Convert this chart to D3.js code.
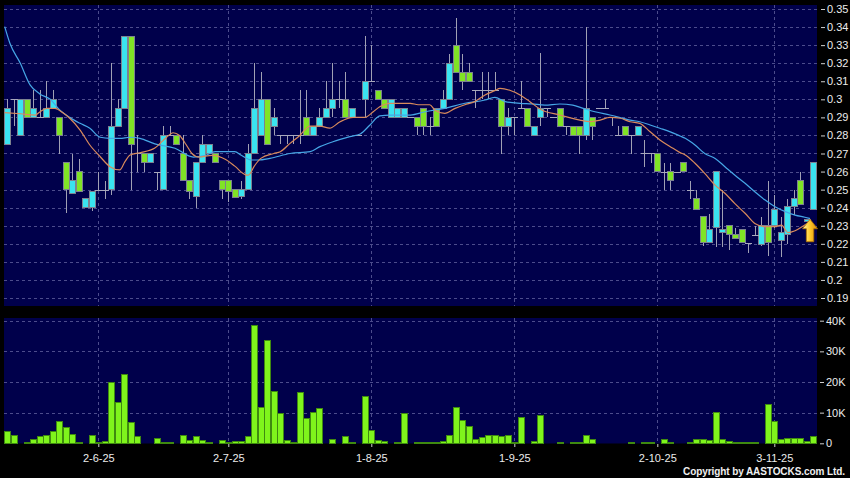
<!DOCTYPE html>
<html>
<head>
<meta charset="utf-8">
<script src="https://cdn.jsdelivr.net/npm/d3@7"></script>
<style>
  body { margin: 0; background: #000; }
  svg { display: block; }
</style>
</head>
<body>
<div id="chart"></div>
<script>
// daily candles, index 0 = first trading day shown
var opens = [0.275,0.30,0.28,0.30,0.29,0.29,0.29,0.295,0.29,0.265,
  0.248,0.26,0.24,0.24,0.25,0.25,0.25,0.285,0.295,0.335,
  0.27,0.27,0.265,0.26,0.25,0.28,0.28,0.27,0.255,0.246,
  0.265,0.27,0.27,0.255,0.255,0.25,0.246,0.25,0.27,0.28,
  0.30,0.285,0.28,0.28,0.28,0.28,0.29,0.28,0.285,0.29,
  0.295,0.30,0.30,0.29,0.28,0.30,0.31,0.305,0.30,0.29,
  0.29,0.29,0.29,0.29,0.295,0.285,0.295,0.295,0.30,0.33,
  0.315,0.315,0.305,0.305,0.305,0.305,0.30,0.285,0.29,0.295,
  0.295,0.28,0.29,0.295,0.29,0.295,0.285,0.285,0.285,0.28,
  0.29,0.295,0.295,0.29,0.28,0.285,0.28,0.28,0.27,0.27,
  0.27,0.26,0.26,0.26,0.265,0.25,0.245,0.235,0.2205,0.229,
  0.226,0.23,0.225,0.228,0.2205,0.225,0.2195,0.23,0.23,0.222,
  0.2253,0.2405,0.255,0.2325,0.239];
var highs = [0.30,0.30,0.30,0.30,0.305,0.305,0.31,0.305,0.29,0.265,
  0.27,0.267,0.245,0.249,0.26,0.255,0.32,0.30,0.335,0.335,
  0.28,0.27,0.27,0.26,0.285,0.285,0.28,0.28,0.255,0.265,
  0.28,0.275,0.27,0.255,0.255,0.25,0.255,0.275,0.32,0.315,
  0.30,0.295,0.28,0.28,0.28,0.305,0.305,0.285,0.295,0.31,
  0.32,0.31,0.315,0.295,0.28,0.335,0.33,0.305,0.30,0.30,
  0.295,0.295,0.29,0.29,0.295,0.29,0.295,0.305,0.325,0.345,
  0.325,0.32,0.305,0.315,0.315,0.315,0.30,0.295,0.29,0.31,
  0.295,0.285,0.3255,0.295,0.29,0.295,0.285,0.285,0.285,0.34,
  0.29,0.295,0.30,0.29,0.285,0.285,0.28,0.285,0.2775,0.27,
  0.27,0.265,0.265,0.26,0.265,0.255,0.25,0.235,0.2365,0.26,
  0.25,0.23,0.2285,0.228,0.2205,0.23,0.235,0.255,0.247,0.235,
  0.245,0.25,0.26,0.2336,0.265];
var lows = [0.275,0.285,0.28,0.29,0.29,0.29,0.29,0.295,0.27,0.237,
  0.248,0.249,0.24,0.238,0.25,0.245,0.247,0.285,0.295,0.25,
  0.26,0.26,0.265,0.25,0.25,0.28,0.275,0.255,0.245,0.24,
  0.265,0.27,0.265,0.245,0.243,0.2457,0.245,0.25,0.27,0.28,
  0.275,0.28,0.275,0.275,0.275,0.275,0.28,0.28,0.285,0.29,
  0.29,0.295,0.29,0.29,0.28,0.29,0.31,0.30,0.295,0.29,
  0.29,0.29,0.29,0.28,0.28,0.28,0.285,0.295,0.30,0.315,
  0.305,0.31,0.295,0.30,0.30,0.305,0.27,0.28,0.28,0.295,
  0.285,0.28,0.285,0.29,0.29,0.285,0.28,0.28,0.27,0.2775,
  0.2775,0.295,0.295,0.285,0.28,0.28,0.27,0.28,0.2625,0.265,
  0.26,0.25,0.25,0.26,0.26,0.245,0.239,0.219,0.2205,0.2185,
  0.2185,0.2165,0.223,0.2205,0.215,0.225,0.219,0.213,0.2285,0.2125,
  0.22,0.236,0.242,0.2325,0.239];
var closes = [0.295,0.30,0.30,0.29,0.295,0.29,0.295,0.30,0.28,0.25,
  0.255,0.249,0.245,0.249,0.25,0.25,0.285,0.295,0.335,0.275,
  0.27,0.265,0.27,0.26,0.28,0.28,0.275,0.255,0.249,0.265,
  0.275,0.275,0.265,0.25,0.249,0.2457,0.25,0.27,0.295,0.30,
  0.275,0.29,0.28,0.28,0.28,0.28,0.28,0.285,0.29,0.295,
  0.30,0.30,0.29,0.295,0.28,0.31,0.31,0.30,0.295,0.30,
  0.295,0.295,0.29,0.285,0.285,0.285,0.285,0.30,0.32,0.315,
  0.31,0.31,0.305,0.305,0.305,0.305,0.285,0.29,0.29,0.295,
  0.285,0.285,0.295,0.295,0.29,0.285,0.285,0.28,0.28,0.295,
  0.285,0.295,0.295,0.29,0.28,0.28,0.28,0.285,0.27,0.27,
  0.26,0.26,0.255,0.26,0.26,0.25,0.239,0.2205,0.228,0.26,
  0.228,0.225,0.223,0.2205,0.2205,0.225,0.23,0.2205,0.239,0.226,
  0.2405,0.245,0.242,0.2336,0.265];
// volume in thousands of shares
var volumes = [4.0,2.6,0,0.2,1.3,2.1,2.6,3.8,7.2,5.2,
  2.8,0.3,0,2.4,0.4,0.5,20,13.4,22.3,6.7,
  2.1,0,0,1.5,0.3,0.3,0,2.4,0.9,2.3,
  0.8,0.2,0,1.0,0.2,0.7,0.7,2.3,38.5,11.8,
  33.4,16.8,9.6,0.8,0.4,16.5,8.0,10.1,11.4,0,
  1.2,0,2.1,0.3,0,15.4,4.1,0.8,0.5,0,
  0.3,9.8,0,0.3,0.2,0.3,0.4,0.5,2.6,11.6,
  7.3,5.4,1.1,2.0,2.7,2.6,2.1,2.4,0.2,8.5,
  0,0.7,9.1,0,0,0.3,0,0.4,0.4,2.4,
  1.1,0,0,0,0,0,0.2,0,0.4,0.4,
  0,1.4,0.4,0,0,0.2,1.4,1.3,0.9,10,
  1.3,0.7,0.2,0.1,0.1,0.1,0,12.8,7.1,1.1,
  1.5,1.7,1.5,0.5,2.1];

// moving averages: [candle index, price]
var maShort = [[-0.4,0.2926],[2,0.292],[4.3,0.2913],[5,0.293],[6.1,0.295],[7.3,0.295],[8.6,0.2924],
  [9.6,0.2895],[11.2,0.283],[12.7,0.2747],[14.3,0.2682],[15.8,0.2627],[17.3,0.2609],[18.1,0.2655],
  [18.9,0.2692],[20.4,0.2704],[22.7,0.273],[24.5,0.279],[25.5,0.2815],[26.5,0.28],[27.5,0.275],
  [28.4,0.27],[29.5,0.268],[31.5,0.269],[33.6,0.2667],[35,0.263],[36.6,0.2583],[37.1,0.258],
  [38,0.263],[39,0.2673],[41,0.27],[42,0.271],[43.5,0.2756],[45,0.28],[46.6,0.2852],[48.1,0.2852],
  [49.6,0.284],[51.2,0.2876],[53.2,0.29],[55,0.29],[56.3,0.2931],[57.3,0.2959],[58.9,0.2978],
  [62,0.2978],[63.2,0.297],[65,0.297],[65.8,0.294],[67.3,0.2922],[68.9,0.295],[70.4,0.297],
  [71.9,0.2987],[73.5,0.3024],[75,0.3048],[75.8,0.3061],[77.3,0.305],[78.9,0.3024],[80.4,0.2987],
  [82,0.2945],[85,0.2913],[88.1,0.2885],[89.6,0.2876],[91.2,0.2885],[92.7,0.29],[94.3,0.2895],
  [95.8,0.2876],[97.3,0.2867],[98.9,0.282],[100.4,0.2775],[102,0.2738],[103.5,0.2705],
  [104.3,0.2692],[105.8,0.2646],[107.3,0.259],[108.9,0.2525],[110.4,0.248],[111.9,0.2424],
  [113.5,0.2369],[115,0.2313],[116.6,0.2295],[118.1,0.2295],[119.1,0.2304],[120.1,0.2262],
  [121.2,0.2272],[122.7,0.2304],[123.5,0.2322]];
var maLong = [[-0.4,0.3402],[0.4,0.331],[2,0.32],[3.5,0.308],[5,0.303],[6.6,0.30],[8.1,0.294],
  [9.6,0.29],[11.2,0.2867],[12.7,0.284],[14.3,0.279],[15.8,0.2784],[17.3,0.2784],[18.9,0.279],
  [20.4,0.2784],[22.7,0.2753],[25.8,0.2729],[28.6,0.268],[30.4,0.2688],[32,0.271],[35,0.271],
  [36,0.269],[37.6,0.2664],[38.6,0.2664],[40.4,0.2673],[43.5,0.27],[46.6,0.271],[48.1,0.2738],
  [50.1,0.2765],[52.7,0.2793],[54.3,0.2808],[55.8,0.2858],[57.3,0.2908],[58.9,0.2913],[62,0.2913],
  [64.3,0.2931],[67.3,0.295],[70.4,0.2978],[73.5,0.2996],[75,0.3011],[76.6,0.2987],[78.9,0.2978],
  [80.7,0.2975],[82.7,0.2968],[85,0.2974],[87,0.2968],[88.6,0.295],[90.4,0.2931],[92.7,0.2913],
  [95.8,0.2885],[97.3,0.2876],[98.9,0.2858],[100.4,0.284],[102,0.282],[103.5,0.2797],
  [104.3,0.2784],[105.8,0.2747],[107.3,0.27],[108.9,0.2673],[110.4,0.2627],[111.9,0.2581],
  [113.5,0.2535],[115,0.2488],[116.6,0.2442],[118.1,0.2405],[119.7,0.2378],[121.2,0.2359],
  [122.7,0.2347],[123.5,0.234]];

var priceTicks = [0.19,0.20,0.21,0.22,0.23,0.24,0.25,0.26,0.27,0.28,0.29,0.30,0.31,0.32,0.33,0.34,0.35];
var volTicks = [0,10,20,30,40];
var volTickText = ['0','10K','20K','30K','40K'];
var dateIdx = [14,34,56,78,100,118];
var dateText = ['2-6-25','2-7-25','1-8-25','1-9-25','2-10-25','3-11-25'];

var svgWidth = 850, svgHeight = 478;
var font = "'Liberation Sans', Arial, sans-serif";
var navy = '#00004b', gridColor = '#4c4c8c';
var cyan = '#3ae4f0', green = '#80e425';

var svg = d3.select('#chart').append('svg')
    .attr('width', svgWidth)
    .attr('height', svgHeight)
    .style('background', '#000');

var x = d3.scaleLinear().domain([0, 124]).range([7.3, 813.3]);
var y = d3.scaleLinear().domain([0.19, 0.35]).range([298, 9]);
var vy = d3.scaleLinear().domain([0, 40]).range([443.3, 320.7]);

// panels
svg.append('rect').attr('x', 4).attr('y', 5).attr('width', 813).attr('height', 301).attr('fill', navy);
svg.append('rect').attr('x', 4).attr('y', 318).attr('width', 813).attr('height', 125.5).attr('fill', navy);

svg.append('clipPath').attr('id', 'pclip')
  .append('rect').attr('x', 4).attr('y', 5).attr('width', 813).attr('height', 301);

// grid
var grid = svg.append('g').attr('stroke', gridColor).attr('stroke-dasharray', '3,3')
    .attr('shape-rendering', 'crispEdges');
grid.selectAll('.hp').data(priceTicks).enter().append('line')
    .attr('x1', 4).attr('x2', 817)
    .attr('y1', d => Math.round(y(d)) + 0.5).attr('y2', d => Math.round(y(d)) + 0.5);
grid.selectAll('.hv').data(volTicks.slice(1)).enter().append('line')
    .attr('x1', 4).attr('x2', 817)
    .attr('y1', d => Math.round(vy(d)) + 0.5).attr('y2', d => Math.round(vy(d)) + 0.5);
grid.selectAll('.vp').data(dateIdx).enter().append('line')
    .attr('x1', d => Math.round(x(d)) + 0.5).attr('x2', d => Math.round(x(d)) + 0.5)
    .attr('y1', 5).attr('y2', 306);
grid.selectAll('.vv').data(dateIdx).enter().append('line')
    .attr('x1', d => Math.round(x(d)) + 0.5).attr('x2', d => Math.round(x(d)) + 0.5)
    .attr('y1', 318).attr('y2', 443);

// candles
var idx = d3.range(opens.length);
var candles = svg.append('g').attr('shape-rendering', 'crispEdges');

candles.selectAll('.wick').data(idx).enter().append('line')
    .attr('x1', i => Math.round(x(i)) + 0.5).attr('x2', i => Math.round(x(i)) + 0.5)
    .attr('y1', i => y(highs[i])).attr('y2', i => y(lows[i]))
    .attr('stroke', '#a0a0b4').attr('stroke-width', 1);

candles.selectAll('.body').data(idx.filter(i => opens[i] != closes[i])).enter().append('rect')
    .attr('x', i => Math.round(x(i)) - 2.5)
    .attr('y', i => y(Math.max(opens[i], closes[i])))
    .attr('width', 6)
    .attr('height', i => Math.max(1, Math.abs(y(opens[i]) - y(closes[i]))))
    .attr('fill', i => closes[i] > opens[i] ? cyan : green)
    .attr('stroke', '#7c8290').attr('stroke-width', 1);

candles.selectAll('.doji').data(idx.filter(i => opens[i] == closes[i])).enter().append('line')
    .attr('x1', i => Math.round(x(i)) - 3).attr('x2', i => Math.round(x(i)) + 4)
    .attr('y1', i => Math.round(y(opens[i])) + 0.5).attr('y2', i => Math.round(y(opens[i])) + 0.5)
    .attr('stroke', '#a8a8bc').attr('stroke-width', 1);

// moving averages
var maLine = d3.line().x(d => x(d[0])).y(d => y(d[1])).curve(d3.curveMonotoneX);
svg.append('path').datum(maLong).attr('d', maLine).attr('clip-path', 'url(#pclip)')
    .attr('fill', 'none').attr('stroke', '#46a6e6').attr('stroke-width', 1.2);
svg.append('path').datum(maShort).attr('d', maLine).attr('clip-path', 'url(#pclip)')
    .attr('fill', 'none').attr('stroke', '#d98a5c').attr('stroke-width', 1.2);

// arrow marker on the latest bar
var defs = svg.append('defs');
var grad = defs.append('linearGradient').attr('id', 'arrowGrad').attr('x1', 0).attr('x2', 1).attr('y1', 0).attr('y2', 0);
grad.append('stop').attr('offset', '0%').attr('stop-color', '#fff3a0');
grad.append('stop').attr('offset', '50%').attr('stop-color', '#ffc82a');
grad.append('stop').attr('offset', '100%').attr('stop-color', '#d88a08');
var ax = x(123.5), ay = y(0.2325);
svg.append('path')
    .attr('d', 'M' + ax + ',' + (ay - 2) + ' l7.5,9.5 h-3.8 v13 h-7.4 v-13 h-3.8 z')
    .attr('fill', 'url(#arrowGrad)').attr('stroke', '#b07000').attr('stroke-width', 0.8);

// volume bars
svg.append('g').attr('shape-rendering', 'crispEdges')
  .selectAll('rect').data(idx.filter(i => volumes[i] > 0)).enter().append('rect')
    .attr('x', i => Math.round(x(i)) - 2.5)
    .attr('y', i => vy(volumes[i]))
    .attr('width', 6)
    .attr('height', i => Math.max(1, vy(0) - vy(volumes[i])))
    .attr('fill', '#7ff41c').attr('stroke', '#3f8a10').attr('stroke-width', 1);

// axes
function styleAxis(g) {
  g.select('.domain').remove();
  g.selectAll('line').attr('stroke', '#d0d0d0');
  g.selectAll('text').attr('fill', '#ececec').style('font-family', font).style('font-size', '11px');
}

svg.append('g').attr('transform', 'translate(821,0)')
    .call(d3.axisRight(y).tickValues(priceTicks).tickSize(4).tickPadding(2)
      .tickFormat(d => String(+d.toFixed(2))))
    .call(styleAxis);

svg.append('g').attr('transform', 'translate(820,0)')
    .call(d3.axisRight(vy).tickValues(volTicks).tickSize(4).tickPadding(2)
      .tickFormat((d, i) => volTickText[i]))
    .call(styleAxis);

svg.append('g').attr('transform', 'translate(0,444)')
    .call(d3.axisBottom(x).tickValues(dateIdx).tickSize(3).tickPadding(7.5)
      .tickFormat((d, i) => dateText[i]))
    .call(styleAxis);

svg.append('text')
    .attr('x', 845).attr('y', 474.5)
    .attr('text-anchor', 'end')
    .attr('textLength', 162)
    .style('font-family', font).style('font-size', '10px').style('font-weight', 'bold')
    .attr('fill', '#f0f0f0')
    .text('Copyright by AASTOCKS.com Ltd.');
</script>
</body>
</html>
